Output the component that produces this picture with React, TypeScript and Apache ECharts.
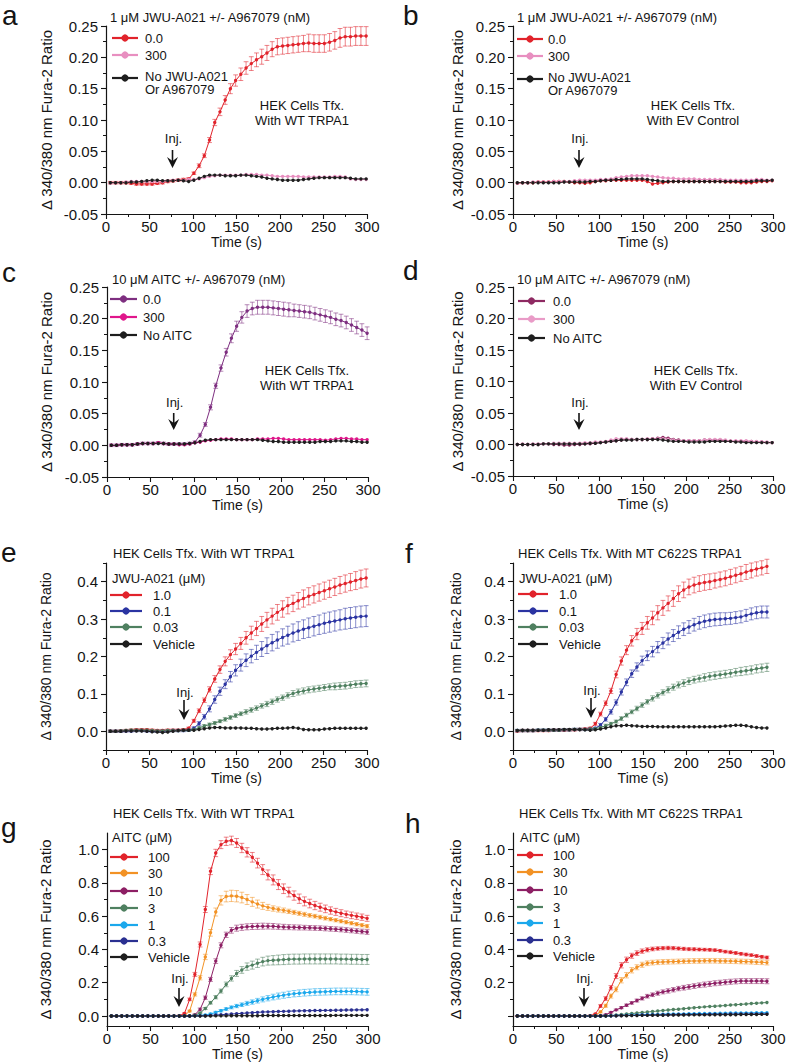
import React, { useEffect, useRef } from "react";
import * as echarts from "echarts";

// ---------- shared time base (s) ----------
const TIME = [
  5, 11, 17, 23, 29, 35, 41, 47, 53, 59,
  65, 71, 77, 83, 89, 95, 101, 107, 113, 119,
  125, 131, 137, 143, 149, 155, 161, 167, 173, 179,
  185, 191, 197, 203, 209, 215, 221, 227, 233, 239,
  245, 251, 257, 263, 269, 275, 281, 287, 293, 299,
];

// ---------- panel a ----------
const A_RED = [
  0.000, 0.000, 0.000, 0.000, -0.001, -0.002, -0.002, -0.002, -0.002, -0.001,
  0.000, 0.002, 0.003, 0.004, 0.005, 0.006, 0.015, 0.027, 0.043, 0.068,
  0.096, 0.113, 0.132, 0.150, 0.163, 0.173, 0.183, 0.190, 0.196, 0.201,
  0.207, 0.213, 0.217, 0.218, 0.219, 0.220, 0.221, 0.222, 0.223, 0.222,
  0.222, 0.222, 0.224, 0.227, 0.231, 0.233, 0.233, 0.234, 0.234, 0.234,
];
const A_RED_ERR = [
  0.002, 0.002, 0.002, 0.002, 0.002, 0.002, 0.002, 0.002, 0.002, 0.002,
  0.002, 0.002, 0.002, 0.002, 0.002, 0.002, 0.002, 0.003, 0.003, 0.004,
  0.005, 0.006, 0.007, 0.008, 0.009, 0.010, 0.010, 0.011, 0.011, 0.012,
  0.012, 0.012, 0.013, 0.013, 0.013, 0.013, 0.013, 0.013, 0.014, 0.014,
  0.014, 0.014, 0.014, 0.014, 0.015, 0.015, 0.015, 0.015, 0.015, 0.015,
];
const A_PINK = [
  -0.001, 0.000, 0.000, 0.001, 0.002, 0.002, 0.002, 0.002, 0.002, 0.002,
  0.002, 0.003, 0.004, 0.004, 0.004, 0.005, 0.005, 0.006, 0.008, 0.010,
  0.011, 0.012, 0.012, 0.012, 0.012, 0.012, 0.013, 0.013, 0.013, 0.012,
  0.012, 0.011, 0.010, 0.010, 0.010, 0.010, 0.010, 0.009, 0.009, 0.009,
  0.009, 0.009, 0.009, 0.010, 0.010, 0.009, 0.006, 0.005, 0.005, 0.005,
];
const A_BLACK = [
  0.000, 0.000, 0.000, 0.000, 0.001, 0.001, 0.002, 0.003, 0.004, 0.004,
  0.003, 0.003, 0.003, 0.004, 0.003, 0.002, 0.004, 0.007, 0.010, 0.012,
  0.012, 0.012, 0.011, 0.011, 0.011, 0.012, 0.012, 0.011, 0.010, 0.009,
  0.007, 0.006, 0.005, 0.004, 0.004, 0.004, 0.004, 0.005, 0.006, 0.007,
  0.008, 0.008, 0.008, 0.008, 0.008, 0.008, 0.007, 0.006, 0.006, 0.006,
];

// ---------- panel b ----------
const B_RED = [
  -0.001, 0.000, 0.000, 0.000, 0.001, 0.001, 0.001, 0.002, 0.002, 0.002,
  0.001, 0.000, 0.000, -0.001, 0.000, 0.002, 0.003, 0.003, 0.004, 0.004,
  0.004, 0.004, 0.004, 0.004, 0.004, 0.002, -0.002, -0.001, 0.000, 0.001,
  0.002, 0.002, 0.002, 0.002, 0.002, 0.002, 0.002, 0.002, 0.002, 0.002,
  0.001, 0.001, 0.001, 0.000, 0.000, 0.000, 0.001, 0.002, 0.002, 0.003,
];
const B_PINK = [
  -0.001, 0.000, 0.000, 0.001, 0.001, 0.001, 0.001, 0.002, 0.002, 0.002,
  0.002, 0.003, 0.004, 0.004, 0.004, 0.004, 0.005, 0.005, 0.006, 0.008,
  0.009, 0.010, 0.011, 0.011, 0.011, 0.011, 0.010, 0.009, 0.008, 0.007,
  0.007, 0.006, 0.006, 0.006, 0.006, 0.005, 0.005, 0.005, 0.005, 0.005,
  0.004, 0.004, 0.004, 0.004, 0.004, 0.004, 0.005, 0.005, 0.004, 0.004,
];
const B_BLACK = [
  0.000, 0.000, 0.000, 0.000, 0.000, 0.000, 0.000, 0.000, 0.000, 0.001,
  0.001, 0.001, 0.001, 0.001, 0.002, 0.002, 0.003, 0.004, 0.004, 0.005,
  0.005, 0.006, 0.006, 0.006, 0.006, 0.005, 0.004, 0.003, 0.002, 0.002,
  0.002, 0.002, 0.002, 0.002, 0.002, 0.002, 0.002, 0.002, 0.002, 0.002,
  0.002, 0.002, 0.002, 0.002, 0.002, 0.002, 0.003, 0.003, 0.003, 0.004,
];

// ---------- panel c ----------
const C_PURPLE = [
  0.000, 0.000, 0.001, 0.001, 0.001, 0.002, 0.003, 0.003, 0.003, 0.004,
  0.003, 0.002, 0.002, 0.002, 0.002, 0.003, 0.005, 0.016, 0.033, 0.060,
  0.094, 0.122, 0.147, 0.169, 0.188, 0.202, 0.212, 0.216, 0.218, 0.218,
  0.218, 0.217, 0.216, 0.215, 0.214, 0.213, 0.212, 0.211, 0.210, 0.208,
  0.206, 0.204, 0.202, 0.199, 0.197, 0.194, 0.190, 0.186, 0.182, 0.177,
];
const C_PURPLE_ERR = [
  0.002, 0.002, 0.002, 0.002, 0.002, 0.002, 0.002, 0.002, 0.002, 0.002,
  0.002, 0.002, 0.002, 0.002, 0.002, 0.002, 0.002, 0.003, 0.003, 0.004,
  0.004, 0.005, 0.006, 0.007, 0.008, 0.009, 0.010, 0.010, 0.011, 0.011,
  0.011, 0.011, 0.011, 0.011, 0.011, 0.010, 0.010, 0.010, 0.010, 0.010,
  0.010, 0.010, 0.010, 0.010, 0.010, 0.010, 0.010, 0.010, 0.010, 0.010,
];
const C_MAG = [
  0.000, 0.000, 0.001, 0.001, 0.001, 0.002, 0.003, 0.003, 0.003, 0.004,
  0.003, 0.002, 0.002, 0.001, 0.001, 0.002, 0.004, 0.005, 0.007, 0.008,
  0.009, 0.010, 0.010, 0.010, 0.009, 0.009, 0.009, 0.009, 0.010, 0.010,
  0.010, 0.011, 0.011, 0.010, 0.009, 0.009, 0.009, 0.009, 0.009, 0.009,
  0.009, 0.008, 0.009, 0.010, 0.011, 0.011, 0.010, 0.010, 0.009, 0.009,
];
const C_BLACK = [
  0.000, 0.000, 0.001, 0.001, 0.001, 0.002, 0.003, 0.003, 0.003, 0.003,
  0.003, 0.002, 0.002, 0.002, 0.002, 0.003, 0.004, 0.006, 0.008, 0.009,
  0.009, 0.009, 0.009, 0.009, 0.009, 0.009, 0.009, 0.009, 0.009, 0.008,
  0.007, 0.006, 0.006, 0.005, 0.005, 0.005, 0.005, 0.005, 0.005, 0.005,
  0.006, 0.006, 0.006, 0.007, 0.007, 0.007, 0.006, 0.006, 0.005, 0.005,
];

// ---------- panel d ----------
const D_PURPLE = [
  0.000, 0.000, 0.000, 0.000, 0.000, 0.001, 0.001, 0.000, 0.000, -0.001,
  -0.001, 0.000, 0.000, 0.001, 0.001, 0.002, 0.003, 0.004, 0.005, 0.006,
  0.007, 0.008, 0.008, 0.008, 0.008, 0.008, 0.009, 0.010, 0.011, 0.010,
  0.008, 0.007, 0.006, 0.006, 0.006, 0.006, 0.007, 0.007, 0.007, 0.007,
  0.006, 0.005, 0.005, 0.005, 0.005, 0.005, 0.004, 0.004, 0.003, 0.003,
];
const D_PINK = [
  0.000, 0.001, 0.000, 0.001, 0.001, 0.001, 0.001, 0.002, 0.002, 0.002,
  0.002, 0.002, 0.002, 0.003, 0.003, 0.004, 0.004, 0.005, 0.007, 0.009,
  0.009, 0.009, 0.008, 0.008, 0.008, 0.009, 0.009, 0.009, 0.009, 0.008,
  0.007, 0.006, 0.006, 0.006, 0.006, 0.006, 0.007, 0.008, 0.008, 0.008,
  0.007, 0.006, 0.006, 0.006, 0.006, 0.005, 0.005, 0.004, 0.004, 0.003,
];
const D_BLACK = [
  0.000, 0.000, 0.000, 0.000, 0.000, 0.001, 0.001, 0.001, 0.001, 0.001,
  0.001, 0.001, 0.001, 0.001, 0.002, 0.002, 0.003, 0.004, 0.005, 0.006,
  0.007, 0.007, 0.007, 0.008, 0.008, 0.008, 0.008, 0.008, 0.007, 0.006,
  0.005, 0.005, 0.005, 0.004, 0.004, 0.004, 0.004, 0.005, 0.005, 0.005,
  0.005, 0.005, 0.004, 0.004, 0.003, 0.003, 0.003, 0.003, 0.003, 0.003,
];

// ---------- panel e ----------
const E_RED = [
  0.000, 0.000, 0.001, 0.002, 0.003, 0.004, 0.004, 0.004, 0.003, 0.002,
  0.002, 0.003, 0.003, 0.003, 0.004, 0.008, 0.028, 0.055, 0.083, 0.112,
  0.140, 0.165, 0.187, 0.205, 0.220, 0.235, 0.250, 0.263, 0.275, 0.287,
  0.298, 0.308, 0.318, 0.327, 0.336, 0.342, 0.349, 0.355, 0.361, 0.366,
  0.371, 0.376, 0.381, 0.386, 0.391, 0.395, 0.399, 0.403, 0.407, 0.410,
];
const E_RED_ERR = [
  0.003, 0.003, 0.003, 0.003, 0.003, 0.003, 0.003, 0.003, 0.003, 0.003,
  0.003, 0.003, 0.003, 0.003, 0.003, 0.003, 0.004, 0.005, 0.006, 0.007,
  0.009, 0.010, 0.012, 0.013, 0.015, 0.016, 0.017, 0.018, 0.019, 0.020,
  0.020, 0.021, 0.021, 0.022, 0.022, 0.022, 0.022, 0.023, 0.023, 0.023,
  0.023, 0.023, 0.023, 0.023, 0.023, 0.023, 0.023, 0.024, 0.024, 0.024,
];
const E_BLUE = [
  0.000, 0.000, 0.000, 0.001, 0.001, 0.002, 0.002, 0.001, 0.000, 0.000,
  0.000, 0.001, 0.002, 0.002, 0.002, 0.003, 0.008, 0.021, 0.039, 0.060,
  0.085, 0.107, 0.126, 0.146, 0.163, 0.177, 0.190, 0.201, 0.211, 0.220,
  0.229, 0.237, 0.244, 0.251, 0.257, 0.263, 0.268, 0.273, 0.277, 0.281,
  0.285, 0.289, 0.292, 0.295, 0.298, 0.301, 0.303, 0.305, 0.307, 0.308,
];
const E_BLUE_ERR = [
  0.003, 0.003, 0.003, 0.003, 0.003, 0.003, 0.003, 0.003, 0.003, 0.003,
  0.003, 0.003, 0.003, 0.003, 0.003, 0.003, 0.004, 0.005, 0.006, 0.008,
  0.010, 0.011, 0.012, 0.014, 0.015, 0.016, 0.017, 0.018, 0.019, 0.020,
  0.021, 0.022, 0.022, 0.023, 0.024, 0.024, 0.025, 0.025, 0.026, 0.026,
  0.026, 0.027, 0.027, 0.027, 0.027, 0.028, 0.028, 0.028, 0.028, 0.028,
];
const E_GREEN = [
  0.000, 0.000, 0.001, 0.002, 0.003, 0.003, 0.003, 0.003, 0.002, 0.001,
  0.001, 0.002, 0.002, 0.002, 0.003, 0.003, 0.005, 0.009, 0.014, 0.018,
  0.022, 0.027, 0.032, 0.037, 0.042, 0.047, 0.052, 0.057, 0.062, 0.068,
  0.073, 0.079, 0.085, 0.090, 0.096, 0.101, 0.105, 0.108, 0.111, 0.113,
  0.115, 0.117, 0.119, 0.120, 0.121, 0.122, 0.124, 0.126, 0.127, 0.128,
];
const E_GREEN_ERR = [
  0.003, 0.003, 0.003, 0.003, 0.003, 0.003, 0.003, 0.003, 0.003, 0.003,
  0.003, 0.003, 0.003, 0.003, 0.003, 0.003, 0.003, 0.004, 0.004, 0.004,
  0.004, 0.004, 0.005, 0.005, 0.005, 0.005, 0.006, 0.006, 0.006, 0.006,
  0.007, 0.007, 0.007, 0.007, 0.007, 0.008, 0.008, 0.008, 0.008, 0.008,
  0.008, 0.008, 0.008, 0.009, 0.009, 0.009, 0.009, 0.009, 0.009, 0.009,
];
const E_BLACK = [
  0.000, 0.000, 0.000, 0.001, 0.001, 0.001, 0.001, 0.000, -0.001, -0.002,
  -0.003, -0.002, 0.000, 0.002, 0.003, 0.003, 0.003, 0.005, 0.007, 0.009,
  0.010, 0.010, 0.009, 0.009, 0.009, 0.009, 0.008, 0.008, 0.007, 0.006,
  0.006, 0.007, 0.008, 0.008, 0.009, 0.010, 0.008, 0.005, 0.004, 0.004,
  0.004, 0.006, 0.007, 0.008, 0.008, 0.008, 0.008, 0.008, 0.008, 0.008,
];

// ---------- panel f (last reading at 293 s) ----------
const F_RED = [
  0.001, 0.002, 0.002, 0.002, 0.002, 0.002, 0.002, 0.003, 0.003, 0.003,
  0.004, 0.004, 0.005, 0.006, 0.008, 0.020, 0.046, 0.075, 0.108, 0.152,
  0.188, 0.217, 0.242, 0.260, 0.275, 0.290, 0.303, 0.317, 0.330, 0.342,
  0.355, 0.368, 0.378, 0.386, 0.391, 0.395, 0.398, 0.400, 0.403, 0.406,
  0.409, 0.413, 0.417, 0.421, 0.426, 0.430, 0.434, 0.437, 0.441,
];
const F_RED_ERR = [
  0.003, 0.003, 0.003, 0.003, 0.003, 0.003, 0.003, 0.003, 0.003, 0.003,
  0.003, 0.003, 0.003, 0.003, 0.003, 0.004, 0.005, 0.006, 0.007, 0.009,
  0.011, 0.012, 0.014, 0.015, 0.016, 0.017, 0.018, 0.019, 0.020, 0.020,
  0.021, 0.021, 0.021, 0.021, 0.021, 0.021, 0.021, 0.021, 0.020, 0.020,
  0.020, 0.020, 0.020, 0.020, 0.020, 0.020, 0.019, 0.019, 0.019,
];
const F_BLUE = [
  0.002, 0.002, 0.002, 0.002, 0.003, 0.003, 0.003, 0.003, 0.003, 0.004,
  0.004, 0.005, 0.005, 0.005, 0.006, 0.008, 0.017, 0.032, 0.052, 0.077,
  0.105, 0.131, 0.154, 0.172, 0.189, 0.202, 0.213, 0.225, 0.236, 0.247,
  0.256, 0.265, 0.273, 0.279, 0.285, 0.290, 0.294, 0.297, 0.299, 0.300,
  0.301, 0.302, 0.304, 0.306, 0.310, 0.314, 0.317, 0.319, 0.319,
];
const F_BLUE_ERR = [
  0.003, 0.003, 0.003, 0.003, 0.003, 0.003, 0.003, 0.003, 0.003, 0.003,
  0.003, 0.003, 0.003, 0.003, 0.003, 0.003, 0.004, 0.005, 0.006, 0.007,
  0.008, 0.009, 0.010, 0.011, 0.012, 0.013, 0.014, 0.015, 0.015, 0.016,
  0.016, 0.017, 0.017, 0.017, 0.017, 0.017, 0.017, 0.017, 0.017, 0.017,
  0.016, 0.016, 0.016, 0.016, 0.016, 0.016, 0.016, 0.016, 0.016,
];
const F_GREEN = [
  0.002, 0.002, 0.002, 0.002, 0.003, 0.003, 0.003, 0.003, 0.003, 0.004,
  0.004, 0.005, 0.005, 0.005, 0.006, 0.007, 0.010, 0.015, 0.020, 0.026,
  0.034, 0.043, 0.052, 0.061, 0.070, 0.079, 0.088, 0.096, 0.104, 0.111,
  0.118, 0.124, 0.129, 0.134, 0.138, 0.141, 0.144, 0.147, 0.149, 0.151,
  0.153, 0.155, 0.158, 0.160, 0.162, 0.164, 0.167, 0.169, 0.171,
];
const F_GREEN_ERR = [
  0.003, 0.003, 0.003, 0.003, 0.003, 0.003, 0.003, 0.003, 0.003, 0.003,
  0.003, 0.003, 0.003, 0.003, 0.003, 0.003, 0.003, 0.004, 0.004, 0.004,
  0.005, 0.005, 0.005, 0.006, 0.006, 0.006, 0.007, 0.007, 0.007, 0.008,
  0.008, 0.008, 0.009, 0.009, 0.009, 0.009, 0.010, 0.010, 0.010, 0.010,
  0.010, 0.010, 0.010, 0.011, 0.011, 0.011, 0.011, 0.011, 0.011,
];
const F_BLACK = [
  0.002, 0.003, 0.003, 0.003, 0.003, 0.003, 0.004, 0.004, 0.004, 0.005,
  0.005, 0.005, 0.005, 0.004, 0.003, 0.004, 0.006, 0.009, 0.012, 0.015,
  0.015, 0.016, 0.015, 0.014, 0.013, 0.013, 0.013, 0.012, 0.012, 0.012,
  0.012, 0.012, 0.012, 0.012, 0.012, 0.012, 0.012, 0.012, 0.012, 0.013,
  0.014, 0.015, 0.016, 0.016, 0.015, 0.012, 0.010, 0.009, 0.009,
];

// ---------- panel g ----------
const G_RED = [
  0.000, 0.000, 0.000, 0.000, 0.000, 0.000, 0.000, 0.000, 0.000, 0.000,
  0.000, 0.000, 0.000, 0.002, 0.015, 0.100, 0.250, 0.430, 0.640, 0.870,
  0.980, 1.030, 1.050, 1.055, 1.040, 1.010, 0.984, 0.954, 0.919, 0.880,
  0.848, 0.818, 0.790, 0.765, 0.745, 0.724, 0.705, 0.689, 0.676, 0.664,
  0.654, 0.644, 0.634, 0.626, 0.618, 0.611, 0.605, 0.600, 0.594, 0.587,
];
const G_RED_ERR = [
  0.003, 0.003, 0.003, 0.003, 0.003, 0.003, 0.003, 0.003, 0.003, 0.003,
  0.003, 0.003, 0.003, 0.003, 0.004, 0.008, 0.012, 0.015, 0.018, 0.020,
  0.022, 0.024, 0.025, 0.026, 0.027, 0.028, 0.028, 0.029, 0.029, 0.030,
  0.030, 0.030, 0.030, 0.029, 0.029, 0.028, 0.028, 0.027, 0.026, 0.025,
  0.024, 0.023, 0.022, 0.021, 0.021, 0.020, 0.020, 0.019, 0.019, 0.018,
];
const G_ORANGE = [
  0.000, 0.000, 0.000, 0.000, 0.000, 0.000, 0.000, 0.000, 0.000, 0.000,
  0.000, 0.000, 0.000, 0.000, 0.002, 0.030, 0.130, 0.230, 0.355, 0.500,
  0.625, 0.695, 0.718, 0.722, 0.720, 0.712, 0.700, 0.686, 0.673, 0.662,
  0.653, 0.646, 0.640, 0.635, 0.629, 0.623, 0.617, 0.611, 0.605, 0.600,
  0.594, 0.588, 0.582, 0.576, 0.570, 0.564, 0.558, 0.552, 0.546, 0.540,
];
const G_ORANGE_ERR = [
  0.003, 0.003, 0.003, 0.003, 0.003, 0.003, 0.003, 0.003, 0.003, 0.003,
  0.003, 0.003, 0.003, 0.003, 0.003, 0.005, 0.010, 0.013, 0.016, 0.020,
  0.024, 0.028, 0.032, 0.034, 0.034, 0.032, 0.030, 0.027, 0.024, 0.021,
  0.018, 0.016, 0.015, 0.014, 0.013, 0.012, 0.012, 0.012, 0.011, 0.011,
  0.011, 0.011, 0.010, 0.010, 0.010, 0.010, 0.010, 0.010, 0.010, 0.010,
];
const G_PURPLE = [
  0.000, 0.000, 0.000, 0.000, 0.000, 0.000, 0.000, 0.000, 0.000, 0.000,
  0.000, 0.000, 0.000, 0.000, 0.000, 0.000, 0.008, 0.040, 0.110, 0.220,
  0.330, 0.425, 0.488, 0.515, 0.528, 0.533, 0.536, 0.538, 0.539, 0.540,
  0.540, 0.539, 0.537, 0.535, 0.534, 0.533, 0.532, 0.531, 0.530, 0.529,
  0.528, 0.526, 0.524, 0.522, 0.520, 0.517, 0.514, 0.511, 0.508, 0.505,
];
const G_PURPLE_ERR = [
  0.003, 0.003, 0.003, 0.003, 0.003, 0.003, 0.003, 0.003, 0.003, 0.003,
  0.003, 0.003, 0.003, 0.003, 0.003, 0.003, 0.004, 0.008, 0.010, 0.012,
  0.014, 0.015, 0.016, 0.017, 0.018, 0.018, 0.018, 0.018, 0.018, 0.018,
  0.017, 0.017, 0.016, 0.016, 0.015, 0.015, 0.015, 0.014, 0.014, 0.014,
  0.014, 0.014, 0.014, 0.014, 0.014, 0.014, 0.014, 0.014, 0.014, 0.014,
];
const G_GREEN = [
  0.000, 0.000, 0.000, 0.000, 0.000, 0.000, 0.000, 0.000, 0.000, 0.000,
  0.000, 0.000, 0.000, 0.000, 0.000, 0.001, 0.005, 0.018, 0.045, 0.080,
  0.113, 0.150, 0.190, 0.226, 0.256, 0.277, 0.297, 0.306, 0.317, 0.327,
  0.333, 0.335, 0.337, 0.339, 0.341, 0.342, 0.342, 0.343, 0.343, 0.343,
  0.343, 0.343, 0.343, 0.343, 0.342, 0.342, 0.341, 0.341, 0.340, 0.340,
];
const G_GREEN_ERR = [
  0.003, 0.003, 0.003, 0.003, 0.003, 0.003, 0.003, 0.003, 0.003, 0.003,
  0.003, 0.003, 0.003, 0.003, 0.003, 0.003, 0.003, 0.004, 0.006, 0.008,
  0.010, 0.012, 0.014, 0.016, 0.018, 0.020, 0.022, 0.024, 0.025, 0.026,
  0.027, 0.028, 0.029, 0.030, 0.030, 0.030, 0.030, 0.030, 0.030, 0.030,
  0.030, 0.030, 0.030, 0.030, 0.030, 0.030, 0.030, 0.030, 0.030, 0.030,
];
const G_CYAN = [
  0.000, 0.000, 0.000, 0.000, 0.000, 0.000, 0.000, 0.000, 0.000, 0.000,
  0.000, 0.000, 0.000, 0.000, 0.000, 0.000, 0.001, 0.003, 0.006, 0.012,
  0.022, 0.032, 0.042, 0.052, 0.060, 0.068, 0.076, 0.084, 0.092, 0.100,
  0.107, 0.114, 0.120, 0.125, 0.130, 0.134, 0.137, 0.140, 0.142, 0.144,
  0.145, 0.146, 0.147, 0.148, 0.148, 0.148, 0.148, 0.147, 0.146, 0.145,
];
const G_CYAN_ERR = [
  0.002, 0.002, 0.002, 0.002, 0.002, 0.002, 0.002, 0.002, 0.002, 0.002,
  0.002, 0.002, 0.002, 0.002, 0.002, 0.002, 0.002, 0.003, 0.004, 0.005,
  0.006, 0.007, 0.008, 0.009, 0.010, 0.011, 0.012, 0.013, 0.014, 0.015,
  0.016, 0.017, 0.018, 0.018, 0.019, 0.019, 0.020, 0.020, 0.020, 0.020,
  0.020, 0.020, 0.020, 0.020, 0.020, 0.020, 0.020, 0.020, 0.020, 0.020,
];
const G_NAVY = [
  0.000, 0.000, 0.000, 0.000, 0.000, 0.000, 0.000, 0.000, 0.000, 0.000,
  0.000, 0.000, 0.000, 0.000, 0.000, 0.000, 0.001, 0.001, 0.002, 0.004,
  0.006, 0.008, 0.010, 0.012, 0.014, 0.016, 0.018, 0.020, 0.022, 0.024,
  0.025, 0.026, 0.027, 0.028, 0.029, 0.030, 0.031, 0.032, 0.032, 0.033,
  0.033, 0.034, 0.034, 0.035, 0.035, 0.036, 0.036, 0.037, 0.037, 0.038,
];
const G_BLACK = [
  0.000, 0.000, 0.000, 0.000, 0.000, 0.000, 0.000, 0.000, 0.000, 0.000,
  0.000, 0.000, 0.000, 0.000, 0.000, 0.000, 0.000, 0.000, 0.000, 0.000,
  0.001, 0.001, 0.001, 0.002, 0.002, 0.002, 0.002, 0.002, 0.002, 0.003,
  0.003, 0.003, 0.003, 0.003, 0.003, 0.003, 0.003, 0.003, 0.003, 0.003,
  0.003, 0.003, 0.003, 0.004, 0.004, 0.004, 0.004, 0.004, 0.004, 0.004,
];

// ---------- panel h (last reading at 293 s) ----------
const H_RED = [
  0.000, 0.000, 0.000, 0.000, 0.000, 0.000, 0.000, 0.000, 0.000, 0.000,
  0.000, 0.000, 0.000, 0.000, 0.002, 0.012, 0.060, 0.105, 0.170, 0.240,
  0.305, 0.338, 0.362, 0.378, 0.390, 0.398, 0.403, 0.406, 0.408, 0.409,
  0.408, 0.406, 0.404, 0.402, 0.401, 0.400, 0.399, 0.398, 0.396, 0.392,
  0.387, 0.383, 0.379, 0.374, 0.370, 0.366, 0.361, 0.356, 0.352,
];
const H_RED_ERR = [
  0.003, 0.003, 0.003, 0.003, 0.003, 0.003, 0.003, 0.003, 0.003, 0.003,
  0.003, 0.003, 0.003, 0.003, 0.003, 0.004, 0.008, 0.011, 0.013, 0.015,
  0.016, 0.016, 0.015, 0.014, 0.013, 0.012, 0.011, 0.010, 0.010, 0.010,
  0.010, 0.009, 0.009, 0.009, 0.009, 0.008, 0.008, 0.008, 0.008, 0.008,
  0.008, 0.008, 0.008, 0.008, 0.008, 0.008, 0.008, 0.008, 0.008,
];
const H_ORANGE = [
  0.000, 0.000, 0.000, 0.000, 0.000, 0.000, 0.000, 0.000, 0.000, 0.000,
  0.000, 0.000, 0.000, 0.000, 0.000, 0.004, 0.025, 0.062, 0.120, 0.160,
  0.215, 0.245, 0.275, 0.293, 0.308, 0.317, 0.321, 0.323, 0.325, 0.326,
  0.327, 0.328, 0.329, 0.330, 0.331, 0.331, 0.332, 0.332, 0.332, 0.331,
  0.331, 0.330, 0.329, 0.328, 0.327, 0.326, 0.324, 0.323, 0.321,
];
const H_ORANGE_ERR = [
  0.003, 0.003, 0.003, 0.003, 0.003, 0.003, 0.003, 0.003, 0.003, 0.003,
  0.003, 0.003, 0.003, 0.003, 0.003, 0.003, 0.006, 0.009, 0.012, 0.014,
  0.016, 0.016, 0.016, 0.015, 0.015, 0.014, 0.014, 0.014, 0.014, 0.014,
  0.014, 0.014, 0.014, 0.014, 0.014, 0.014, 0.014, 0.014, 0.014, 0.014,
  0.014, 0.014, 0.014, 0.014, 0.014, 0.014, 0.014, 0.014, 0.014,
];
const H_PURPLE = [
  0.000, 0.000, 0.000, 0.000, 0.000, 0.000, 0.000, 0.000, 0.000, 0.000,
  0.000, 0.000, 0.000, 0.000, 0.000, 0.000, 0.002, 0.008, 0.022, 0.037,
  0.050, 0.065, 0.079, 0.093, 0.106, 0.119, 0.128, 0.137, 0.145, 0.151,
  0.158, 0.165, 0.170, 0.175, 0.180, 0.185, 0.189, 0.193, 0.197, 0.200,
  0.203, 0.206, 0.208, 0.210, 0.210, 0.210, 0.210, 0.210, 0.209,
];
const H_PURPLE_ERR = [
  0.003, 0.003, 0.003, 0.003, 0.003, 0.003, 0.003, 0.003, 0.003, 0.003,
  0.003, 0.003, 0.003, 0.003, 0.003, 0.003, 0.003, 0.003, 0.004, 0.005,
  0.006, 0.007, 0.008, 0.009, 0.010, 0.011, 0.011, 0.012, 0.012, 0.013,
  0.013, 0.013, 0.014, 0.014, 0.014, 0.014, 0.015, 0.015, 0.015, 0.015,
  0.015, 0.015, 0.015, 0.015, 0.015, 0.015, 0.015, 0.015, 0.015,
];
const H_GREEN = [
  0.000, 0.000, 0.000, 0.000, 0.000, 0.000, 0.000, 0.000, 0.000, 0.000,
  0.000, 0.000, 0.000, 0.000, 0.000, 0.000, 0.001, 0.002, 0.003, 0.006,
  0.009, 0.012, 0.015, 0.018, 0.021, 0.024, 0.027, 0.030, 0.033, 0.036,
  0.039, 0.041, 0.044, 0.047, 0.050, 0.052, 0.055, 0.057, 0.059, 0.061,
  0.063, 0.066, 0.068, 0.070, 0.072, 0.075, 0.077, 0.079, 0.081,
];
const H_CYAN = [
  0.000, 0.000, 0.000, 0.000, 0.000, 0.000, 0.000, 0.000, 0.000, 0.000,
  0.000, 0.000, 0.000, 0.000, 0.000, 0.000, 0.000, 0.001, 0.002, 0.003,
  0.004, 0.005, 0.006, 0.007, 0.008, 0.009, 0.010, 0.010, 0.011, 0.012,
  0.012, 0.013, 0.013, 0.014, 0.014, 0.015, 0.015, 0.016, 0.016, 0.017,
  0.017, 0.018, 0.018, 0.018, 0.019, 0.019, 0.020, 0.020, 0.020,
];
const H_NAVY = [
  0.000, 0.000, 0.000, 0.000, 0.000, 0.000, 0.000, 0.000, 0.000, 0.000,
  0.000, 0.000, 0.000, 0.000, 0.000, 0.000, 0.000, 0.001, 0.001, 0.002,
  0.003, 0.004, 0.004, 0.005, 0.006, 0.006, 0.007, 0.007, 0.008, 0.008,
  0.008, 0.009, 0.009, 0.009, 0.010, 0.010, 0.010, 0.011, 0.011, 0.011,
  0.011, 0.012, 0.012, 0.012, 0.012, 0.013, 0.013, 0.013, 0.013,
];
const H_BLACK = [
  0.000, 0.000, 0.000, 0.000, 0.000, 0.000, 0.000, 0.000, 0.000, 0.000,
  0.000, 0.000, 0.000, 0.000, 0.000, 0.000, 0.000, 0.000, 0.001, 0.001,
  0.002, 0.002, 0.003, 0.003, 0.004, 0.004, 0.005, 0.005, 0.005, 0.006,
  0.006, 0.006, 0.006, 0.007, 0.007, 0.007, 0.007, 0.007, 0.008, 0.008,
  0.008, 0.008, 0.008, 0.009, 0.009, 0.009, 0.009, 0.010, 0.010,
];

// ---------- axis tick values ----------
const Y_AD_MAJOR = [-0.05, 0, 0.05, 0.1, 0.15, 0.2, 0.25];
const Y_AD_MINOR = [-0.025, 0.025, 0.075, 0.125, 0.175, 0.225];
const Y_EF_MAJOR = [0, 0.1, 0.2, 0.3, 0.4];
const Y_EF_MINOR = [-0.05, 0.05, 0.15, 0.25, 0.35, 0.45];
const Y_GH_MAJOR = [0, 0.2, 0.4, 0.6, 0.8, 1.0];
const Y_GH_MINOR = [0.1, 0.3, 0.5, 0.7, 0.9];
const Y_H_LABELS = [0.2, 0.4, 0.6, 0.8, 1.0];

// ---------- colours ----------
const RED = "#e1232b";
const PINK = "#e88fc0";
const BLACK = "#1e1e1e";
const C_PURPLE_COL = "#7e2f80";
const MAGENTA = "#e0168b";
const D_MAROON = "#8e2a62";
const D_PINK_COL = "#e99bc7";
const BLUE = "#2b34a2";
const GREEN = "#4f8060";
const ORANGE = "#f29225";
const G_PURPLE_COL = "#8d1f64";
const CYAN = "#1ba8ec";
const NAVY = "#2a3091";

const FONT = '"Liberation Sans", Arial, Helvetica, sans-serif';
const INK = "#141414";
const YNAME = "\u0394 340/380 nm Fura-2 Ratio";

type Item = { name: string; data: number[]; err?: number[]; color: string };

const PANELS: any[] = [
  {
    letter: "a", lx: 2, ly: 15, left: 106, top: 26, width: 261, height: 188,
    yMin: -0.05, yMax: 0.25, major: Y_AD_MAJOR, minor: Y_AD_MINOR, labels: Y_AD_MAJOR, digits: 2,
    nameSize: 15, nameGap: 52,
    title: "1 \u03bcM JWU-A021 +/- A967079 (nM)", tx: 110, ty: 17,
    items: [
      { name: "0.0", data: A_RED, err: A_RED_ERR, color: RED },
      { name: "300", data: A_PINK, color: PINK },
      { name: "No JWU-A021\nOr A967079", data: A_BLACK, color: BLACK },
    ],
    leg: { x: 112, w: 26, tx: 145, ys: [38, 55, 78] },
    inj: { x: 172.5, ty: 138, top: 150, tip: 168 },
    note: { text: "HEK Cells Tfx.\nWith WT TRPA1", x: 302, y: 105 },
  },
  {
    letter: "b", lx: 403, ly: 15, left: 513, top: 26, width: 260, height: 188,
    yMin: -0.05, yMax: 0.25, major: Y_AD_MAJOR, minor: Y_AD_MINOR, labels: Y_AD_MAJOR, digits: 2,
    nameSize: 15, nameGap: 48,
    title: "1 \u03bcM JWU-A021 +/- A967079 (nM)", tx: 517, ty: 17,
    items: [
      { name: "0.0", data: B_RED, color: RED },
      { name: "300", data: B_PINK, color: PINK },
      { name: "No JWU-A021\nOr A967079", data: B_BLACK, color: BLACK },
    ],
    leg: { x: 517, w: 26, tx: 548, ys: [39, 56, 79] },
    inj: { x: 579, ty: 138, top: 150, tip: 168 },
    note: { text: "HEK Cells Tfx.\nWith EV Control", x: 693, y: 105 },
  },
  {
    letter: "c", lx: 2, ly: 272, left: 107, top: 287, width: 261, height: 190,
    yMin: -0.05, yMax: 0.25, major: Y_AD_MAJOR, minor: Y_AD_MINOR, labels: Y_AD_MAJOR, digits: 2,
    nameSize: 15, nameGap: 53,
    title: "10 \u03bcM AITC +/- A967079 (nM)", tx: 112, ty: 279,
    items: [
      { name: "0.0", data: C_PURPLE, err: C_PURPLE_ERR, color: C_PURPLE_COL },
      { name: "300", data: C_MAG, color: MAGENTA },
      { name: "No AITC", data: C_BLACK, color: BLACK },
    ],
    leg: { x: 110, w: 27, tx: 143, ys: [299, 317, 335] },
    inj: { x: 173.7, ty: 402, top: 413, tip: 430 },
    note: { text: "HEK Cells Tfx.\nWith WT TRPA1", x: 307, y: 370 },
  },
  {
    letter: "d", lx: 403, ly: 270, left: 513, top: 287, width: 260, height: 189,
    yMin: -0.05, yMax: 0.25, major: Y_AD_MAJOR, minor: Y_AD_MINOR, labels: Y_AD_MAJOR, digits: 2,
    nameSize: 15, nameGap: 48,
    title: "10 \u03bcM AITC +/- A967079 (nM)", tx: 517, ty: 279,
    items: [
      { name: "0.0", data: D_PURPLE, color: D_MAROON },
      { name: "300", data: D_PINK, color: D_PINK_COL },
      { name: "No AITC", data: D_BLACK, color: BLACK },
    ],
    leg: { x: 518, w: 27, tx: 553, ys: [301, 319, 338] },
    inj: { x: 579, ty: 402, top: 413, tip: 430 },
    note: { text: "HEK Cells Tfx.\nWith EV Control", x: 696, y: 370 },
  },
  {
    letter: "e", lx: 1, ly: 552, left: 106, top: 563, width: 261, height: 187,
    yMin: -0.05, yMax: 0.45, major: Y_EF_MAJOR, minor: Y_EF_MINOR, labels: Y_EF_MAJOR, digits: 1,
    nameSize: 14, nameGap: 53,
    title: "HEK Cells Tfx. With WT TRPA1", tx: 113, ty: 553,
    header: { text: "JWU-A021 (\u03bcM)", x: 112, y: 578 },
    items: [
      { name: "1.0", data: E_RED, err: E_RED_ERR, color: RED },
      { name: "0.1", data: E_BLUE, err: E_BLUE_ERR, color: BLUE },
      { name: "0.03", data: E_GREEN, err: E_GREEN_ERR, color: GREEN },
      { name: "Vehicle", data: E_BLACK, color: BLACK },
    ],
    leg: { x: 110, w: 32, tx: 153, ys: [595, 611, 627, 644] },
    inj: { x: 184, ty: 692, top: 700, tip: 720 },
  },
  {
    letter: "f", lx: 405, ly: 553, left: 513, top: 563, width: 260, height: 187,
    yMin: -0.05, yMax: 0.45, major: Y_EF_MAJOR, minor: Y_EF_MINOR, labels: Y_EF_MAJOR, digits: 1,
    nameSize: 14, nameGap: 50,
    title: "HEK Cells Tfx. With MT C622S TRPA1", tx: 518, ty: 553,
    header: { text: "JWU-A021 (\u03bcM)", x: 519, y: 578 },
    items: [
      { name: "1.0", data: F_RED, err: F_RED_ERR, color: RED },
      { name: "0.1", data: F_BLUE, err: F_BLUE_ERR, color: BLUE },
      { name: "0.03", data: F_GREEN, err: F_GREEN_ERR, color: GREEN },
      { name: "Vehicle", data: F_BLACK, color: BLACK },
    ],
    leg: { x: 518, w: 30, tx: 559, ys: [594, 611, 627, 644] },
    inj: { x: 591, ty: 690, top: 698, tip: 718 },
  },
  {
    letter: "g", lx: 1, ly: 827, left: 107, top: 833, width: 261, height: 193,
    yMin: -0.06, yMax: 1.1, major: Y_GH_MAJOR, minor: Y_GH_MINOR, labels: Y_GH_MAJOR, digits: 1,
    nameSize: 15, nameGap: 54,
    title: "HEK Cells Tfx. With WT TRPA1", tx: 113, ty: 813,
    header: { text: "AITC (\u03bcM)", x: 112, y: 837 },
    items: [
      { name: "100", data: G_RED, err: G_RED_ERR, color: RED },
      { name: "30", data: G_ORANGE, err: G_ORANGE_ERR, color: ORANGE },
      { name: "10", data: G_PURPLE, err: G_PURPLE_ERR, color: G_PURPLE_COL },
      { name: "3", data: G_GREEN, err: G_GREEN_ERR, color: GREEN },
      { name: "1", data: G_CYAN, err: G_CYAN_ERR, color: CYAN },
      { name: "0.3", data: G_NAVY, color: NAVY },
      { name: "Vehicle", data: G_BLACK, color: BLACK },
    ],
    leg: { x: 110, w: 28, tx: 148, ys: [857, 873, 891, 908, 925, 941, 957] },
    inj: { x: 179, ty: 978, top: 988, tip: 1007 },
  },
  {
    letter: "h", lx: 405, ly: 823, left: 513, top: 833, width: 260, height: 193,
    yMin: -0.06, yMax: 1.1, major: Y_GH_MAJOR, minor: Y_GH_MINOR, labels: Y_H_LABELS, digits: 1,
    nameSize: 15, nameGap: 50,
    title: "HEK Cells Tfx. With MT C622S TRPA1", tx: 519, ty: 813,
    header: { text: "AITC (\u03bcM)", x: 520, y: 837 },
    items: [
      { name: "100", data: H_RED, err: H_RED_ERR, color: RED },
      { name: "30", data: H_ORANGE, err: H_ORANGE_ERR, color: ORANGE },
      { name: "10", data: H_PURPLE, err: H_PURPLE_ERR, color: G_PURPLE_COL },
      { name: "3", data: H_GREEN, color: GREEN },
      { name: "1", data: H_CYAN, color: CYAN },
      { name: "0.3", data: H_NAVY, color: NAVY },
      { name: "Vehicle", data: H_BLACK, color: BLACK },
    ],
    leg: { x: 517, w: 26, tx: 553, ys: [855, 872, 890, 907, 923, 940, 956] },
    inj: { x: 584, ty: 978, top: 988, tip: 1007 },
  },
];

function txt(text: string, x: number, y: number, size: number, align = "left", vAlign = "middle") {
  return {
    type: "text",
    x,
    y,
    silent: true,
    z: 100,
    style: {
      text,
      fontSize: size,
      fontFamily: FONT,
      fill: INK,
      textAlign: align,
      textVerticalAlign: vAlign,
    },
  };
}

function buildOption() {
  const grid: any[] = [];
  const xAxis: any[] = [];
  const yAxis: any[] = [];
  const series: any[] = [];
  const graphics: any[] = [];

  PANELS.forEach((p, i) => {
    grid.push({ left: p.left, top: p.top, width: p.width, height: p.height, containLabel: false, outerBoundsMode: "none" });
    xAxis.push({
      type: "value",
      gridIndex: i,
      min: 0,
      max: 300,
      interval: 50,
      axisLine: { show: true, onZero: false, lineStyle: { color: INK, width: 1.2 } },
      axisTick: { show: true, length: 5, lineStyle: { color: INK, width: 1.1 } },
      minorTick: { show: true, splitNumber: 2, length: 3, lineStyle: { color: INK, width: 1 } },
      axisLabel: { fontSize: 15, color: INK, margin: 5, fontFamily: FONT },
      splitLine: { show: false },
      minorSplitLine: { show: false },
      name: "Time (s)",
      nameLocation: "middle",
      nameGap: 21,
      nameMoveOverlap: false,
      nameTextStyle: { fontSize: 14, color: INK, fontFamily: FONT },
    });
    yAxis.push({
      type: "value",
      gridIndex: i,
      min: p.yMin,
      max: p.yMax,
      position: "left",
      axisLine: { show: true, onZero: false, lineStyle: { color: INK, width: 1.2 } },
      axisTick: { show: true, length: 5, customValues: p.major, lineStyle: { color: INK, width: 1.1 } },
      axisLabel: {
        customValues: p.labels,
        formatter: (v: number) => v.toFixed(p.digits),
        fontSize: 15,
        color: INK,
        margin: 8,
        fontFamily: FONT,
      },
      splitLine: { show: false },
      name: YNAME,
      nameLocation: "middle",
      nameGap: p.nameGap,
      nameMoveOverlap: false,
      nameTextStyle: { fontSize: p.nameSize, color: INK, fontFamily: FONT },
    });
    yAxis.push({
      type: "value",
      gridIndex: i,
      min: p.yMin,
      max: p.yMax,
      position: "left",
      offset: 0,
      axisLine: { show: false, onZero: false },
      axisTick: { show: true, length: 3, customValues: p.minor, lineStyle: { color: INK, width: 1 } },
      axisLabel: { show: false },
      splitLine: { show: false },
    });

    (p.items as Item[]).forEach((it) => {
      const n = it.data.length;
      if (it.err) {
        const errData = it.data.map((v, k) => [TIME[k], v, it.err![k]]);
        const col = it.color;
        series.push({
          type: "custom",
          xAxisIndex: i,
          yAxisIndex: 2 * i,
          silent: true,
          z: 1,
          encode: { x: 0, y: 1 },
          data: errData,
          renderItem: (params: any, api: any) => {
            const x = api.value(0);
            const y = api.value(1);
            const e = api.value(2);
            const a = api.coord([x, y + e]);
            const b = api.coord([x, y - e]);
            const w = 2.4;
            const st = { stroke: col, lineWidth: 0.9, opacity: 0.62 };
            return {
              type: "group",
              children: [
                { type: "line", shape: { x1: a[0], y1: a[1], x2: b[0], y2: b[1] }, style: st },
                { type: "line", shape: { x1: a[0] - w, y1: a[1], x2: a[0] + w, y2: a[1] }, style: st },
                { type: "line", shape: { x1: b[0] - w, y1: b[1], x2: b[0] + w, y2: b[1] }, style: st },
              ],
            };
          },
        });
      }
      series.push({
        type: "line",
        name: it.name.replace("\n", " "),
        xAxisIndex: i,
        yAxisIndex: 2 * i,
        data: it.data.map((v, k) => [TIME[k], v]).slice(0, n),
        symbol: "circle",
        symbolSize: 3.4,
        showSymbol: true,
        z: 2,
        lineStyle: { width: 1, color: it.color },
        itemStyle: { color: it.color },
        emphasis: { disabled: true },
      });
    });

    // panel letter
    graphics.push(txt(p.letter, p.lx, p.ly, 28));
    // title
    graphics.push(txt(p.title, p.tx, p.ty, 13));
    if (p.header) graphics.push(txt(p.header.text, p.header.x, p.header.y, 13));
    // legend
    (p.items as Item[]).forEach((it, k) => {
      const y = p.leg.ys[k];
      graphics.push({
        type: "line",
        silent: true,
        z: 100,
        shape: { x1: p.leg.x, y1: y, x2: p.leg.x + p.leg.w, y2: y },
        style: { stroke: it.color, lineWidth: 2.2 },
      });
      graphics.push({
        type: "circle",
        silent: true,
        z: 101,
        shape: { cx: p.leg.x + p.leg.w / 2, cy: y, r: 3.6 },
        style: { fill: it.color },
      });
      it.name.split("\n").forEach((line, li) => {
        graphics.push(txt(line, p.leg.tx, y - (it.name.includes("\n") ? 1.5 : 0) + li * 13, 13));
      });
    });
    // injection arrow
    const a = p.inj;
    graphics.push(txt("Inj.", a.x + 1, a.ty, 13, "center"));
    graphics.push({
      type: "line",
      silent: true,
      z: 100,
      shape: { x1: a.x, y1: a.top, x2: a.x, y2: a.tip - 6 },
      style: { stroke: INK, lineWidth: 1.6 },
    });
    graphics.push({
      type: "polygon",
      silent: true,
      z: 100,
      shape: { points: [[a.x - 5.5, a.tip - 11], [a.x, a.tip], [a.x + 5.5, a.tip - 11], [a.x, a.tip - 7]] },
      style: { fill: INK },
    });
    // note
    if (p.note) {
      p.note.text.split("\n").forEach((line: string, li: number) => {
        graphics.push(txt(line, p.note.x, p.note.y + li * 15, 13, "center"));
      });
    }
  });

  return {
    animation: false,
    backgroundColor: "#ffffff",
    textStyle: { fontFamily: FONT },
    grid,
    xAxis,
    yAxis,
    series,
    graphic: { elements: graphics },
  };
}

export default function App() {
  const ref = useRef<HTMLDivElement>(null);
  useEffect(() => {
    const chart = echarts.init(ref.current!, null, { renderer: "svg" });
    chart.setOption(buildOption() as any);
    return () => chart.dispose();
  }, []);
  return (
    <div
      ref={ref}
      style={{ position: "absolute", left: 0, top: 0, width: 787, height: 1064, background: "#fff" }}
    />
  );
}
